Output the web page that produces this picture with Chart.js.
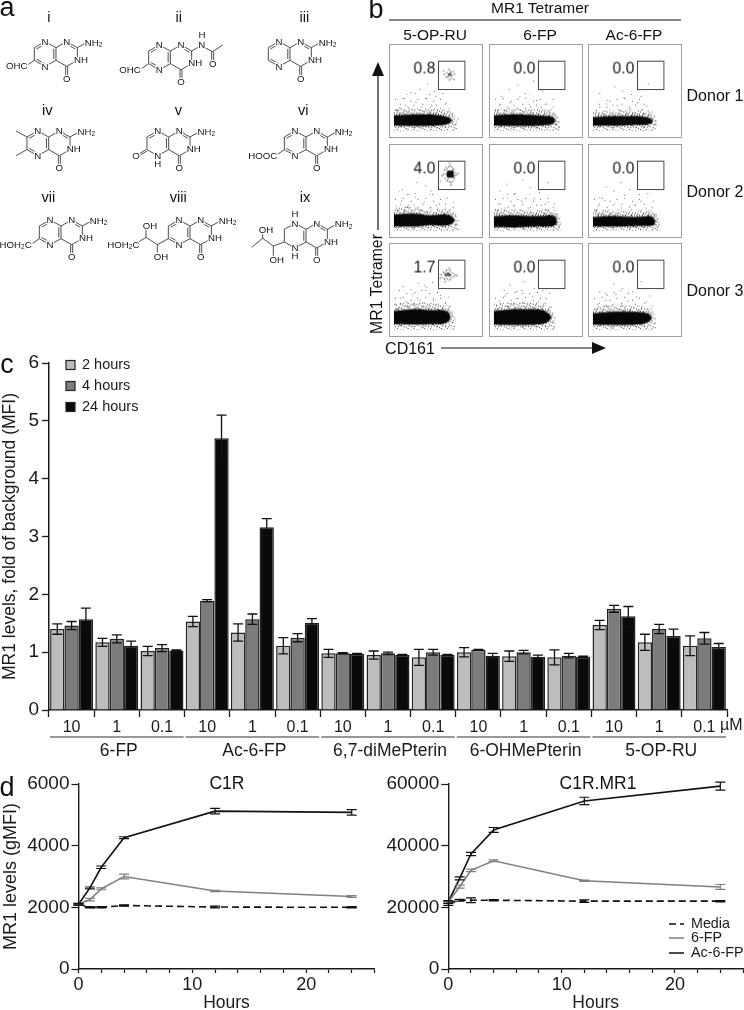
<!DOCTYPE html>
<html>
<head>
<meta charset="utf-8">
<title>MR1 figure</title>
<script src="https://cdn.jsdelivr.net/npm/chart.js@4"></script>
<style>
  html, body { margin: 0; padding: 0; background: #fff; overflow: hidden; }
  #page { position: relative; width: 744px; height: 1010px; overflow: hidden; }
  canvas, svg { position: absolute; }
  svg { left: 0; top: 0; pointer-events: none; }
  svg text { font-family: "Liberation Sans", Arial, sans-serif; fill: #111; }
</style>
</head>
<body>
<div id="page"></div>
<script>
// ---------------- panel c: bars ----------------
const doseLabels = ['10','1','0.1','10','1','0.1','10','1','0.1','10','1','0.1','10','1','0.1'];
const compounds = ['6-FP','Ac-6-FP','6,7-diMePterin','6-OHMePterin','5-OP-RU'];
const timeLabels = ['2 hours','4 hours','24 hours'];
const hours2  = [1.40,1.17,1.02, 1.53,1.34,1.11, 0.98,0.95,0.91, 1.00,0.93,0.91, 1.47,1.17,1.11];
const hours4  = [1.46,1.23,1.07, 1.89,1.57,1.25, 0.98,0.98,1.00, 1.04,1.00,0.94, 1.75,1.40,1.24];
const hours24 = [1.57,1.11,1.03, 4.70,3.16,1.51, 0.97,0.95,0.95, 0.94,0.92,0.92, 1.62,1.28,1.09];
const err2  = [0.09,0.07,0.08, 0.09,0.15,0.14, 0.07,0.07,0.14, 0.08,0.09,0.13, 0.08,0.14,0.17];
const err4  = [0.07,0.07,0.06, 0.02,0.09,0.07, 0.01,0.02,0.05, 0.01,0.03,0.04, 0.06,0.08,0.10];
const err24 = [0.19,0.08,0.01, 0.40,0.15,0.07, 0.01,0.01,0.01, 0.04,0.03,0.01, 0.17,0.12,0.06];

// ---------------- panel d: time courses ----------------
const hoursX = [0,1,2,4,12,24];
const seriesNames = ['Media','6-FP','Ac-6-FP'];
const c1rMedia = [2100,2000,2000,2060,2010,2000];
const c1rFp    = [2100,2250,2600,3000,2530,2350];
const c1rAc    = [2100,2630,3300,4260,5120,5080];
const c1rMediaErr = [20,20,20,20,30,20];
const c1rFpErr    = [30,40,30,80,20,30];
const c1rAcErr    = [30,30,40,30,90,90];
const mr1Media = [21200,22300,22300,22300,22000,22000];
const mr1Fp    = [21700,26700,32000,35100,28600,26600];
const mr1Ac    = [21700,29400,37300,45100,54500,59300];
const mr1MediaErr = [600,300,800,200,400,200];
const mr1FpErr    = [400,500,400,300,200,800];
const mr1AcErr    = [500,500,500,800,1200,1300];

// ---------------- panel b: flow plots (axes 0-100) ----------------
const flowColumns = ['5-OP-RU','6-FP','Ac-6-FP'];
const donors = ['Donor 1','Donor 2','Donor 3'];
const flowPercents = ['0.8','0.0','0.0','4.0','0.0','0.0','1.7','0.0','0.0'];
const gateX = [52.7, 84];
const gateY = [52.7, 86];
// blob outline for each panel: x stops, top edge, bottom edge
const blobX = [
  [0,25,45,60,66,69],[0,25,50,65,71,73],[0,25,50,63,69,71.5],
  [0,25,42,60,68,72],[0,25,50,68,73,75],[0,25,50,68,72,74],
  [0,25,45,58,65,67],[0,25,45,58,65,68],[0,25,48,60,67,70]];
const blobTop = [
  [21,22,22,20,18,15],[21,22,21,20,18,15],[19,20,20,19,17,14],
  [22,23,21,22,20,16],[20,21,20,21,19,15],[19,20,19,20,18,14],
  [25,27,26,26,23,18],[25,27,27,26,22,18],[22,24,24,23,21,17]];
const blobBottom = [
  [9,8.6,9,10,12,15],[9,8.6,9,10,12,15],[9,9,10,10,12,14],
  [8,8,9.5,9,11,15],[7.5,7,8,8,10,14],[8,8,8.5,9,10,14],
  [9.5,9.3,9.5,10,13,18],[9,8.6,9,10,13,18],[9,8.6,9,10,13,17]];
// extent of the dense fringe and of the thin haze above each blob
const fringeX = [
  [0,25,45,60,70,75],[0,25,50,65,74,78],[0,25,50,63,72,76],
  [0,25,42,60,72,77],[0,25,50,68,76,80],[0,25,50,68,76,80],
  [0,25,45,58,68,73],[0,25,45,58,68,73],[0,25,48,60,70,75]];
const fringeTop = [
  [30,29,29,27,24,8],[28,29,28,27,22,8],[26,27,27,25,22,8],
  [32,31,27,28,24,8],[29,28,27,28,24,8],[28,27,26,27,24,8],
  [33,36,34,33,28,8],[33,36,35,33,28,8],[30,32,31,30,26,8]];
const hazeTop = [
  [42,48,47,42,30,10],[40,46,45,40,30,10],[38,44,43,36,28,10],
  [50,48,46,40,30,10],[46,50,44,42,30,10],[44,46,42,40,30,10],
  [50,54,52,46,34,10],[48,52,50,46,34,10],[44,50,48,42,32,10]];
const flowDots = [
  [3,27,7,30,10,25,14,33,18,26,22,29,26,37,28,24,33,31,36,26,39,41,42,25,45,33,47,27,50,44,52,25,55,30,57,24,60,27,62,36,64,25,66,29,69,23,72,20,74,14,76,17,71,10,12,41,20,48,31,52,40,58,48,49,58,47,6,24,16,24,24,25,35,24,43,24,49,24,30,6,15,5,45,6,55,7],
  [2,26,6,33,11,24,15,28,19,36,23,25,27,30,31,43,35,25,38,29,42,34,44,24,48,27,51,39,54,24,56,31,60,26,63,35,66,24,68,28,71,22,75,18,77,13,74,10,9,44,18,52,28,57,37,47,47,62,58,50,70,40,5,24,13,24,21,25,33,24,40,24,46,24,52,23,20,5,36,6,50,6],
  [4,25,8,31,12,23,16,35,20,27,24,23,29,33,32,26,37,42,41,23,44,29,49,24,53,36,55,23,59,28,61,23,64,32,67,22,70,25,73,19,75,14,72,10,8,47,17,39,26,55,35,50,46,46,57,44,66,58,3,22,14,22,22,23,31,23,39,23,47,23,25,6,42,7,60,7],
  [3,30,6,26,9,38,13,28,17,33,21,26,25,43,29,31,33,27,36,37,40,25,43,30,46,46,49,24,52,29,54,35,58,25,61,30,64,24,67,28,70,23,74,20,76,15,73,9,10,52,18,46,27,60,38,56,44,50,55,62,63,42,71,37,4,25,12,25,20,26,30,26,38,24,47,24,22,5,40,6,58,7],
  [2,28,5,35,9,25,13,30,16,42,20,24,24,32,28,26,33,38,37,24,41,30,45,24,48,41,52,26,56,33,59,24,62,28,65,37,68,24,72,27,75,23,78,18,79,12,77,8,7,50,15,58,24,46,34,63,43,54,54,48,64,60,72,35,4,23,11,24,18,24,28,24,35,23,43,23,50,23,18,4,35,5,52,5],
  [3,26,6,32,10,23,14,39,18,27,22,23,26,35,30,24,34,30,38,45,42,23,46,28,50,33,53,23,57,38,60,24,63,30,66,23,69,27,73,22,76,16,78,12,75,8,8,42,16,55,25,50,33,60,44,52,55,46,65,47,72,38,5,22,12,22,20,23,28,22,37,22,45,22,28,5,44,6,60,6],
  [2,33,5,29,8,40,12,31,15,36,18,29,22,45,25,32,28,30,31,38,35,30,38,49,41,29,44,34,47,40,50,29,53,33,55,44,58,29,61,35,64,27,67,31,69,24,71,18,70,11,73,15,11,54,20,50,29,58,37,55,46,59,57,52,65,42,3,28,10,28,16,29,24,29,33,29,42,29,20,6,36,6,52,7],
  [3,31,6,37,9,29,13,43,16,30,20,34,24,29,27,40,30,30,34,46,37,30,40,35,43,29,46,42,50,30,53,36,56,29,59,33,62,40,65,26,68,30,70,23,72,17,71,11,12,50,19,56,27,48,36,60,48,52,58,49,66,46,4,28,9,28,17,29,25,29,32,29,41,29,47,29,19,5,34,6,50,6],
  [2,27,5,33,9,26,12,30,15,38,19,26,23,31,27,45,31,27,34,33,38,26,42,37,45,26,49,30,52,42,55,26,58,31,60,25,63,36,66,24,69,28,72,21,74,16,73,10,8,48,17,44,25,57,35,52,47,48,57,60,68,43,3,24,11,25,20,26,28,26,36,26,44,26,21,5,38,6,55,7]];
// events inside the gate: thin spread and dense core
const flowCluster = [
  [66,70,63,72,69,68,62,67,70,73,65,76,68,65,60,70,72,70,64,66,67,74,59,74,71,64,66,63],[],[],
  [59,70,60,75,61,65,62,78,63,62,64,72,65,79,66,61,67,80,68,60,69,78,70,62,71,76,72,65,73,72,74,69,62,70,72,68,64,64,70,75,63,76,71,66,57,68,76,71,66,83,68,57],[],[],
  [56,68,58,65,59,71,60,63,61,68,62,73,63,63,64,74,66,62,67,73,68,64,70,70,71,66,73,68,53,70,55,64,66,76,61,60,75,67],[],[]];
const flowCore = [
  [66,70,67,71,65,69,67,69],[],[],
  [67,70,66,71,68,69,66,69,68,71,67,72,65,70,69,70,67,68,65,72,69,72,65,68,69,68],[],[],
  [64,68,63,68,65,68,66,69,62,67,64,70,66,67,61,69,67,68],[],[]];
// speckle tiles for the flow fringe (pixel positions)
const fringeTile = [0,1,3,0,6,2,9,0,12,1,15,0,2,3,5,4,8,3,11,4,14,3,16,5,1,6,4,7,7,6,10,7,13,6,0,9,3,9,6,8,9,10,12,8,15,9,2,11,5,12,8,12,11,11,14,12,16,13,1,14,4,15,7,14,10,15,13,15,0,17,3,17,6,16,9,17,12,17,15,16];
const hazeTile = [2,3,9,1,17,4,5,9,13,8,21,11,1,15,10,14,18,17,7,20,14,21];

const FONT = '"Liberation Sans", Arial, sans-serif';
const INK = '#1a1a1a';
const page = document.getElementById('page');

function addCanvas(left, top, width, height) {
    const c = document.createElement('canvas');
    c.width = width;
    c.height = height;
    c.style.left = left + 'px';
    c.style.top = top + 'px';
    c.style.width = width + 'px';
    c.style.height = height + 'px';
    page.appendChild(c);
    return c;
}

function stipple(pixels, w, h, color) {
    const t = document.createElement('canvas');
    t.width = w;
    t.height = h;
    const g = t.getContext('2d');
    g.fillStyle = color;
    for (let i = 0; i + 1 < pixels.length; i += 2) g.fillRect(pixels[i], pixels[i + 1], 1, 1);
    return g.createPattern(t, 'repeat');
}

// error bars, using the values stored on each dataset
const errorBars = {
    id: 'errorBars',
    afterDatasetsDraw(chart, args, opts) {
        const ctx = chart.ctx, y = chart.scales.y;
        ctx.save();
        chart.data.datasets.forEach((ds, d) => {
            if (!ds.errors) return;
            const meta = chart.getDatasetMeta(d);
            ctx.strokeStyle = opts.color || ds.borderColor;
            ctx.lineWidth = opts.lineWidth;
            ctx.setLineDash([]);
            ds.errors.forEach((e, i) => {
                const v = y.getValueForPixel(meta.data[i].y);
                const x = meta.data[i].x;
                const hi = y.getPixelForValue(v + e), lo = y.getPixelForValue(v - e);
                ctx.beginPath();
                ctx.moveTo(x, hi); ctx.lineTo(x, lo);
                ctx.moveTo(x - opts.cap, hi); ctx.lineTo(x + opts.cap, hi);
                ctx.moveTo(x - opts.cap, lo); ctx.lineTo(x + opts.cap, lo);
                ctx.stroke();
            });
        });
        ctx.restore();
    }
};

// compound brackets under the dose labels, legend and uM mark for panel c
const barExtras = {
    id: 'barExtras',
    afterDraw(chart) {
        const ctx = chart.ctx, x = chart.scales.x;
        const step = x.getPixelForValue(1) - x.getPixelForValue(0);
        const bottom = chart.chartArea.bottom;
        ctx.save();
        ctx.fillStyle = INK;
        ctx.strokeStyle = '#333';
        ctx.lineWidth = 1.2;
        ctx.textAlign = 'center';
        ctx.textBaseline = 'middle';
        ctx.font = '17.5px ' + FONT;
        compounds.forEach((name, i) => {
            const a = x.getPixelForValue(i * 3) - step / 2 + 1;
            const b = x.getPixelForValue(i * 3 + 2) + step / 2 - 1;
            ctx.beginPath();
            ctx.moveTo(a, bottom + 27);
            ctx.lineTo(b, bottom + 27);
            ctx.stroke();
            ctx.fillText(name, (a + b) / 2 + 2, bottom + 41);
        });
        ctx.font = '16px ' + FONT;
        ctx.textAlign = 'left';
        ctx.fillText('\u00B5M', chart.chartArea.right - 7, bottom + 16);
        // legend
        ctx.font = '14.5px ' + FONT;
        chart.data.datasets.forEach((ds, i) => {
            const ly = 365 - 345 + i * 21;
            ctx.fillStyle = ds.backgroundColor;
            ctx.fillRect(66, ly - 4.5, 9, 9);
            ctx.strokeStyle = '#222';
            ctx.strokeRect(66, ly - 4.5, 9, 9);
            ctx.fillStyle = INK;
            ctx.fillText(ds.label, 82, ly);
        });
        ctx.restore();
    }
};

const barColors = ['#bdbdbd', '#7c7c7c', '#0a0a0a'];
new Chart(addCanvas(0, 345, 744, 420), {
    type: 'bar',
    data: {
        labels: doseLabels,
        datasets: [hours2, hours4, hours24].map((vals, i) => ({
            label: timeLabels[i],
            data: vals,
            errors: [err2, err4, err24][i],
            backgroundColor: barColors[i],
            borderColor: '#222',
            borderWidth: 1.5,
            categoryPercentage: 0.95,
            barPercentage: 1
        }))
    },
    options: {
        responsive: false,
        animation: false,
        layout: { padding: { top: 18, right: 17 } },
        plugins: {
            legend: { display: false },
            tooltip: { enabled: false },
            errorBars: { cap: 5, lineWidth: 1.3, color: '#111' }
        },
        scales: {
            x: {
                afterFit: s => { s.height = 55; },
                border: { color: INK, width: 1.5 },
                grid: { offset: true, drawOnChartArea: false, tickLength: 7, tickColor: INK, tickWidth: 1.3 },
                ticks: { color: INK, font: { family: FONT, size: 16 }, padding: 1, maxRotation: 0, autoSkip: false }
            },
            y: {
                min: 0, max: 6,
                afterFit: s => { s.width = 49; },
                border: { color: INK, width: 1.5 },
                grid: { drawOnChartArea: false, tickLength: 7, tickColor: INK, tickWidth: 1.3 },
                ticks: { stepSize: 1, color: INK, font: { family: FONT, size: 19 }, padding: 3 },
                title: { display: true, text: 'MR1 levels, fold of background (MFI)', color: INK,
                         font: { family: FONT, size: 17.5 }, padding: 0 }
            }
        }
    },
    plugins: [errorBars, barExtras]
});

// legend of the line panel
const lineLegend = {
    id: 'lineLegend',
    afterDraw(chart, args, opts) {
        if (!opts.show) return;
        const ctx = chart.ctx;
        ctx.save();
        ctx.font = '14.3px ' + FONT;
        ctx.textBaseline = 'middle';
        chart.data.datasets.forEach((ds, i) => {
            const ly = opts.y[i];
            ctx.strokeStyle = ds.borderColor;
            ctx.lineWidth = 1.5;
            ctx.setLineDash(ds.borderDash || []);
            ctx.beginPath();
            ctx.moveTo(opts.x, ly);
            ctx.lineTo(opts.x + 15, ly);
            ctx.stroke();
            ctx.fillStyle = INK;
            ctx.fillText(ds.label, opts.x + 22, ly);
        });
        ctx.restore();
    }
};

function timeCourse(left, width, axisWidth, yMax, yStep, series, errors, showLegend, yTitle) {
    const colors = ['#111', '#808080', '#111'];
    new Chart(addCanvas(left, 770, width, 244), {
        type: 'line',
        data: {
            datasets: series.map((vals, i) => ({
                label: seriesNames[i],
                data: vals.map((v, k) => ({ x: hoursX[k], y: v })),
                errors: errors[i],
                borderColor: colors[i],
                borderWidth: 1.6,
                borderDash: i === 0 ? [7, 4] : [],
                pointRadius: 0,
                tension: 0
            }))
        },
        options: {
            responsive: false,
            animation: false,
            layout: { padding: { top: 14, right: width - axisWidth - 296 } },
            plugins: {
                legend: { display: false },
                tooltip: { enabled: false },
                errorBars: { cap: 5, lineWidth: 1.2 },
                lineLegend: { show: showLegend, x: 297, y: [154, 168, 183] }
            },
            scales: {
                x: {
                    type: 'linear', min: 0, max: 26,
                    afterFit: s => { s.height = 45; },
                    border: { color: INK, width: 1.4 },
                    grid: { drawOnChartArea: false, tickLength: 4, tickColor: INK, tickWidth: 1.2 },
                    ticks: { stepSize: 2, color: INK, font: { family: FONT, size: 18 }, padding: 1,
                             maxRotation: 0, autoSkip: false,
                             callback: v => (v % 10 === 0 ? String(v) : '') },
                    title: { display: true, text: 'Hours', color: INK, font: { family: FONT, size: 17.5 }, padding: 0 }
                },
                y: {
                    min: 0, max: yMax,
                    afterFit: s => { s.width = axisWidth; },
                    border: { color: INK, width: 1.4 },
                    grid: { drawOnChartArea: false, tickLength: 7, tickColor: INK, tickWidth: 1.2 },
                    ticks: { stepSize: yStep, color: INK, font: { family: FONT, size: 19 }, padding: 2,
                             callback: v => String(v) },
                    title: { display: !!yTitle, text: yTitle, color: INK, font: { family: FONT, size: 18 }, padding: 0 }
                }
            }
        },
        plugins: [errorBars, lineLegend]
    });
}
timeCourse(0, 380, 78.5, 6000, 2000, [c1rMedia, c1rFp, c1rAc], [c1rMediaErr, c1rFpErr, c1rAcErr], false, 'MR1 levels (gMFI)');
timeCourse(372, 372, 76.3, 60000, 20000, [mr1Media, mr1Fp, mr1Ac], [mr1MediaErr, mr1FpErr, mr1AcErr], true, '');

// gate box and percentage of each flow plot
const gate = {
    id: 'gate',
    afterDraw(chart, args, opts) {
        const ctx = chart.ctx, x = chart.scales.x, y = chart.scales.y;
        const l = x.getPixelForValue(gateX[0]), r = x.getPixelForValue(gateX[1]);
        const b = y.getPixelForValue(gateY[0]), t = y.getPixelForValue(gateY[1]);
        ctx.save();
        ctx.strokeStyle = '#444';
        ctx.lineWidth = 1;
        ctx.strokeRect(Math.round(l) + 0.5, Math.round(t) + 0.5, Math.round(r - l), Math.round(b - t));
        ctx.fillStyle = INK;
        ctx.font = '16px ' + FONT;
        ctx.textAlign = 'right';
        ctx.textBaseline = 'middle';
        ctx.fillText(opts.text, l - 3, y.getPixelForValue(76));
        ctx.restore();
    }
};

const flowLeft = [389, 489, 588];
const flowTop = [44, 144, 243];
const fringeFill = stipple(fringeTile, 17, 18, '#333');
const hazeFill = stipple(hazeTile, 23, 23, '#666');
flowPercents.forEach((pct, n) => {
    const c = addCanvas(flowLeft[n % 3], flowTop[Math.floor(n / 3)], 94, 94);
    c.style.boxSizing = 'border-box';
    c.style.border = '1px solid #a0a0a0';
    const pairs = list => {
        const out = [];
        for (let i = 0; i + 1 < list.length; i += 2) out.push({ x: list[i], y: list[i + 1] });
        return out;
    };
    const blobLine = { showLine: true, pointRadius: 0, borderColor: '#222', backgroundColor: '#060606',
                       borderWidth: 2, borderDash: [1, 1.5], tension: 0.3 };
    new Chart(c, {
        type: 'scatter',
        data: {
            datasets: [
                { ...blobLine, data: blobX[n].map((v, k) => ({ x: v, y: blobTop[n][k] })), fill: '+1' },
                { ...blobLine, data: blobX[n].map((v, k) => ({ x: v, y: blobBottom[n][k] })), fill: false },
                { data: pairs(flowDots[n]), pointRadius: 0.5, pointBorderWidth: 0, pointBackgroundColor: '#333' },
                { data: pairs(flowCluster[n]), pointRadius: 0.7, pointBorderWidth: 0, pointBackgroundColor: '#444' },
                { data: pairs(flowCore[n]), pointRadius: n === 3 ? 2 : 1.1, pointBorderWidth: 0,
                  pointBackgroundColor: n === 3 ? '#111' : '#555' },
                { showLine: true, pointRadius: 0, borderWidth: 0, tension: 0.3, backgroundColor: fringeFill,
                  data: fringeX[n].map((v, k) => ({ x: v, y: fringeTop[n][k] })), fill: { value: 3 } },
                { showLine: true, pointRadius: 0, borderWidth: 0, tension: 0.3, backgroundColor: hazeFill,
                  data: fringeX[n].map((v, k) => ({ x: v, y: hazeTop[n][k] })), fill: { value: 3 } }
            ]
        },
        options: {
            responsive: false,
            animation: false,
            plugins: { legend: { display: false }, tooltip: { enabled: false }, gate: { text: pct } },
            scales: {
                x: { display: false, min: 0, max: 100 },
                y: { display: false, min: 0, max: 100 }
            }
        },
        plugins: [gate]
    });
});

// ---------------- text, arrows and the pterin structures (panel a) ----------------
let svg = '';
function txt(s, x, y, size, extra) {
    svg += `<text x="${x}" y="${y}" font-size="${size}" text-anchor="middle" dominant-baseline="central" ${extra || ''}>${s}</text>`;
}
function ln(x1, y1, x2, y2, w, col) {
    svg += `<line x1="${x1}" y1="${y1}" x2="${x2}" y2="${y2}" stroke="${col || '#111'}" stroke-width="${w || 1}"/>`;
}

txt('a', 7, 7, 27);
txt('b', 376, 9, 27);
txt('c', 7, 364, 27);
txt('d', 7, 787, 27);

// panel b labels
txt('MR1 Tetramer', 540, 7, 15.5);
ln(389, 20, 681, 20, 1);
flowColumns.forEach((name, i) => txt(name, [435, 540, 634][i], 34, 15.5));
donors.forEach((name, i) => txt(name, 715, [95, 191, 290][i], 16));
ln(378, 230, 378, 72, 1.2);
svg += '<polygon points="378,62 372,76 384,76" fill="#111"/>';
svg += '<text x="376" y="284" font-size="15.8" text-anchor="middle" dominant-baseline="central" transform="rotate(-90 376 284)">MR1 Tetramer</text>';
txt('CD161', 410, 348, 16);
ln(441, 348, 596, 348, 1.2);
svg += '<polygon points="606,348 592,342 592,354" fill="#111"/>';

// panel c/d titles
txt('C1R', 227, 783, 17.5);
txt('C1R.MR1', 598, 783, 17.5);

// structures, drawn in zoomed coordinates (3x)
const atoms = {
    A:[0,0], B:[33,18], C:[33,56], D:[0,74], E:[-32,56], F:[-32,18],
    G:[65,0], H:[97,18], I:[97,56], J:[65,74]
};
const ringL = [0,37], ringR = [65,37];
function mol(ax, ay, o) {
    const gray = '#333';
    const at = n => [ax + atoms[n][0], ay + atoms[n][1]];
    const bond = (a, b) => { const p = at(a), q = at(b); ln(p[0], p[1], q[0], q[1], 2.6, gray); };
    const inner = (a, b, c) => {
        const p = at(a), q = at(b), cx = ax + c[0], cy = ay + c[1];
        ln(p[0] + (cx - p[0]) * .2, p[1] + (cy - p[1]) * .2, q[0] + (cx - q[0]) * .2, q[1] + (cy - q[1]) * .2, 2.6, gray);
    };
    const label = (s, x, y) => txt(s, ax + x, ay + y, 29, 'fill="#222" stroke="#fff" stroke-width="7" paint-order="stroke"');
    [['F','A'],['A','B'],['B','C'],['C','D'],['D','E'],['E','F'],['B','G'],['G','H'],['H','I'],['I','J'],['J','C']].forEach(b => bond(b[0], b[1]));
    inner('B', 'C', ringL);
    inner('G', 'H', ringR);
    if (!o.satTop) inner('F', 'A', ringL);
    if (!o.noD) inner('D', 'E', ringL);
    ln(ax + 62, ay + 74, ax + 62, ay + 106, 2.6, gray);
    ln(ax + 68, ay + 74, ax + 68, ay + 106, 2.6, gray);
    (o.lines || []).forEach(l => ln(ax + l[0], ay + l[1], ax + l[2], ay + l[3], 2.6, gray));
    if (!o.noNH2) {
        ln(ax + 97, ay + 18, ax + 122, ay + 4, 2.6, gray);
        label('NH<tspan font-size="20" dy="5">2</tspan>', 146, 2);
    }
    label('N', 0, 0); label('N', 65, 0); label('N', 0, 74);
    label('NH', 108, 54);
    label('O', 65, 110);
    (o.labels || []).forEach(l => label(l[2], l[0], l[1]));
}
svg += '<g transform="scale(0.33333)">';
const romans = ['i','ii','iii','iv','v','vi','vii','viii','ix'];
const romanX = [147,536,913,142,535,910,145,535,915];
const romanY = [50,50,50,330,330,330,592,592,592];
romans.forEach((r, i) => txt(r, romanX[i], romanY[i], 44));
const sub2 = '<tspan font-size="20" dy="5">2</tspan><tspan dy="-5">C</tspan>';
mol(135, 125, { lines: [[-32,56,-52,70]], labels: [[-85,73,'OHC']] });
mol(478, 135, { noNH2: true,
    lines: [[-32,56,-52,70],[97,18,125,2],[125,2,160,20],[160,20,190,0],[157,20,157,50],[163,20,163,50]],
    labels: [[-88,73,'OHC'],[127,0,'N'],[128,-30,'H'],[160,55,'O']] });
mol(837, 125, {});
mol(113, 393, { lines: [[-32,18,-65,0],[-32,56,-65,74]] });
mol(473, 393, { noD: true, lines: [[-35,56,-55,68],[-32,60,-52,72]], labels: [[-65,74,'O'],[0,98,'H']] });
mol(885, 393, { lines: [[-32,56,-52,70]], labels: [[-97,74,'HOOC']] });
mol(150, 660, { lines: [[-32,56,-55,72]], labels: [[-103,73,'HOH' + sub2]] });
mol(537, 660, { lines: [[-32,56,-65,74],[-65,74,-65,98],[-65,74,-99,52],[-99,52,-99,30],[-99,52,-130,72]],
    labels: [[-54,110,'OH'],[-87,18,'OH'],[-167,73,'HOH' + sub2]] });
mol(885, 670, { satTop: true, noD: true,
    lines: [[-32,56,-65,68],[-65,68,-65,98],[-65,68,-97,45],[-97,45,-97,28],[-97,45,-130,72]],
    labels: [[0,-28,'H'],[0,98,'H'],[-55,110,'OH'],[-87,18,'OH']] });
svg += '</g>';
page.insertAdjacentHTML('beforeend', `<svg width="744" height="1010" viewBox="0 0 744 1010">${svg}</svg>`);
</script>
</body>
</html>
